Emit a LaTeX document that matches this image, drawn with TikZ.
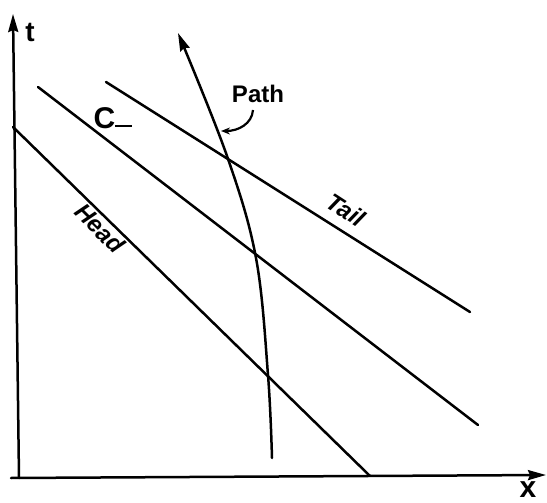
\documentclass[tikz,border=0pt]{standalone}
\usepackage{fontspec}
\setmainfont{Liberation Sans}
\usetikzlibrary{arrows.meta}
\begin{document}
\begin{tikzpicture}[x=1pt,y=-1pt,
  ln/.style={line width=2.5pt,line cap=round},
  tip/.style={-{Stealth[length=18pt,width=10pt,inset=2pt]}},
  lbl/.style={inner sep=0pt,font=\fontsize{24}{24}\selectfont\bfseries}]
\useasboundingbox (0,0) rectangle (547,503);
% axes
\coordinate (o) at (19,478);
\coordinate (ttop) at (13,14);
\coordinate (xend) at (546,475);
\draw[ln,tip] (o) -- (ttop);
\draw[ln,tip] (11,478) -- (xend);
\node[lbl,font=\fontsize{28}{28}\selectfont\bfseries] (t) at (30,32) {t};
\node[lbl,font=\fontsize{30}{30}\selectfont\bfseries] (x) at (528,490) {x};
% characteristic lines
\coordinate (h1) at (13,127);
\coordinate (h2) at (370,476);
\coordinate (c1) at (38,87);
\coordinate (c2) at (478,425);
\coordinate (ta1) at (106,82);
\coordinate (ta2) at (470,312);
\draw[ln] (h1) -- (h2);
\draw[ln] (c1) -- (c2);
\draw[ln] (ta1) -- (ta2);
% path
\coordinate (pb) at (272,458);
\coordinate (pt) at (178,33);
\draw[ln,tip] plot[smooth,tension=0.6] coordinates {(pb) (268,375) (256,258) (227,156) (pt)};
% labels
\node[lbl] (path) at (258,94) {Path};
\coordinate (pp) at (221,131);
\draw[line width=2.2pt,-{Stealth[length=9pt,width=7pt]}] (253,110) .. controls (252,124) and (238,131) .. (pp);
\node[lbl,font=\fontsize{30}{30}\selectfont\bfseries] (cm) at (113,118) {C\rule[1pt]{17pt}{2.5pt}};
\node[lbl,rotate=-33,font=\fontsize{24}{24}\selectfont\bfseries\itshape] (tail) at (346,210) {Tail};
\node[lbl,rotate=-45,font=\fontsize{24}{24}\selectfont\bfseries\itshape] (head) at (100,228) {Head};
\end{tikzpicture}
\end{document}
